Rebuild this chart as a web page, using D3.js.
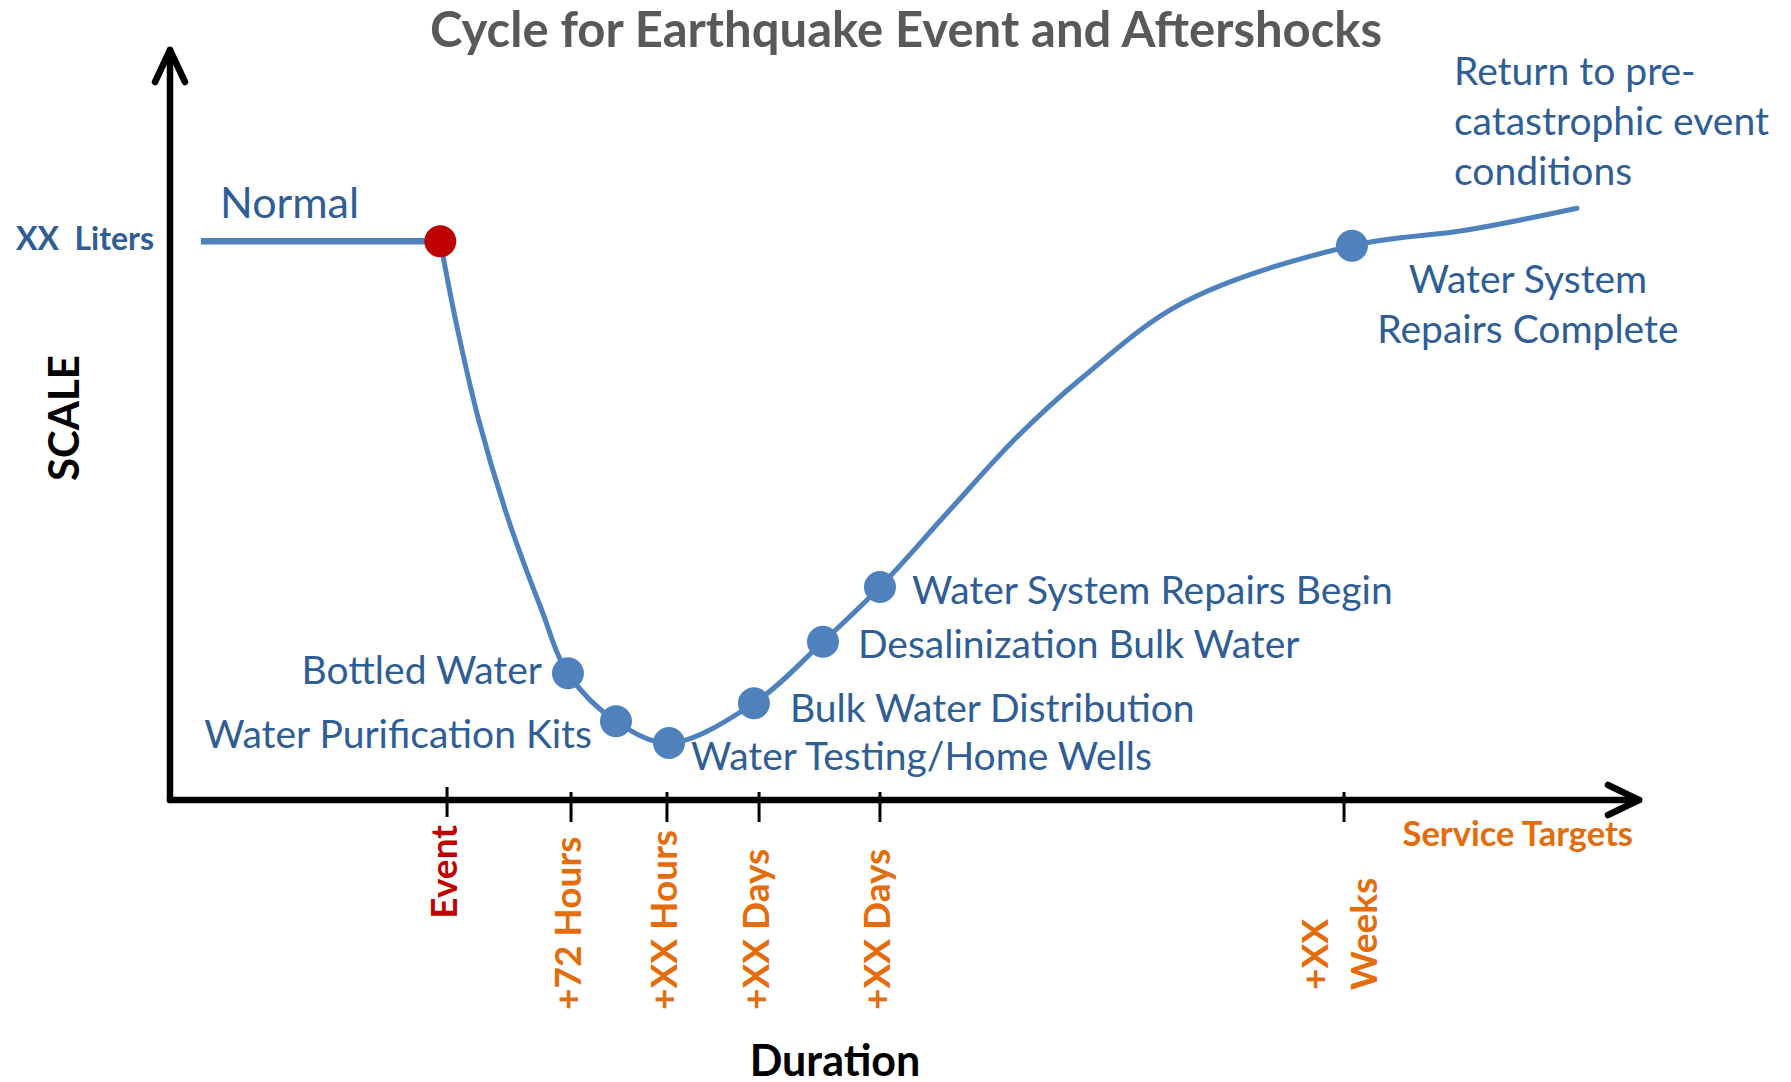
<!DOCTYPE html>
<html>
<head>
<meta charset="utf-8">
<script src="https://d3js.org/d3.v7.min.js"></script>
<style>
  body { margin: 0; background: #fff; }
  text { font-family: Lato, "Open Sans", sans-serif; }
</style>
</head>
<body>
<div id="chart"></div>
<script>
// service level curve, both axes in 0-100 units
var curveX = [18.4, 19.44, 21.01, 23.05, 25.23, 27.09, 30.36, 33.97, 39.75, 44.45, 48.33,
              53.1, 57.66, 62.15, 68.96, 80.46, 88.29, 95.78];
var curveY = [74.5, 64.0, 50.7, 37.3, 25.7, 16.9, 10.5, 7.6, 12.9, 21.1, 28.4,
              38.7, 48.4, 56.4, 66.3, 73.9, 76.0, 78.9];

var normalX = [2.1, 18.4];
var normalLevel = 74.5;

var milestones = ["Event", "Bottled Water", "Water Purification Kits", "Water Testing/Home Wells",
                  "Bulk Water Distribution", "Desalinization Bulk Water", "Water System Repairs Begin",
                  "Water System Repairs Complete"];
var milestoneX = [18.4, 27.09, 30.36, 33.97, 39.75, 44.45, 48.33, 80.46];
var milestoneY = [74.5, 16.9, 10.5, 7.6, 12.9, 21.1, 28.4, 73.9];

var tickLabels = ["Event", "+72 Hours", "+XX Hours", "+XX Days", "+XX Days", "+XX Weeks"];
var tickX = [18.86, 27.3, 33.83, 40.1, 48.33, 79.92];

var width = 1791, height = 1082;
var blue = "#4f81bd", textBlue = "#2f5d95", orange = "#e46c0a", red = "#c00000";

var svg = d3.select("#chart").append("svg")
    .attr("width", width)
    .attr("height", height);

var x = d3.scaleLinear().domain([0, 100]).range([170, 1639]);
var y = d3.scaleLinear().domain([0, 100]).range([800, 50]);

// title
svg.append("text")
    .attr("x", 906).attr("y", 47)
    .attr("text-anchor", "middle")
    .style("font-size", "49px").style("font-weight", "bold")
    .attr("fill", "#595959")
    .text("Cycle for Earthquake Event and Aftershocks");

// axes with open arrow heads
var axis = svg.append("g").attr("stroke", "#000").attr("fill", "none")
    .attr("stroke-width", 6.5).attr("stroke-linecap", "round").attr("stroke-linejoin", "round");
axis.append("line").attr("x1", x(0)).attr("y1", y(0)).attr("x2", x(0)).attr("y2", y(100));
axis.append("line").attr("x1", x(0)).attr("y1", y(0)).attr("x2", x(100)).attr("y2", y(0));
axis.append("path").attr("d", "M" + (x(0) - 15) + "," + (y(100) + 32) + "L" + x(0) + "," + y(100) + "L" + (x(0) + 15) + "," + (y(100) + 32));
axis.append("path").attr("d", "M" + (x(100) - 31) + "," + (y(0) - 15) + "L" + x(100) + "," + y(0) + "L" + (x(100) - 31) + "," + (y(0) + 15));

// ticks
svg.append("g").selectAll("line").data(tickX).join("line")
    .attr("x1", d => x(d)).attr("x2", d => x(d))
    .attr("y1", (d, i) => i === 0 ? y(0) - 13 : y(0) - 8)
    .attr("y2", (d, i) => i === 0 ? y(0) + 17 : y(0) + 22)
    .attr("stroke", "#000").attr("stroke-width", 3);

// tick labels, rotated
var tl = svg.append("g").style("font-weight", "bold").style("font-size", "37px");
tickLabels.forEach(function (lab, i) {
  var px = x(tickX[i]);
  if (i === 0) {
    tl.append("text").attr("transform", "translate(" + (px + 10) + ",825) rotate(-90)")
      .attr("text-anchor", "end").attr("fill", red).text(lab);
  } else if (lab.indexOf("Weeks") >= 0) {
    var parts = lab.split(" ");
    parts.forEach(function (p, j) {
      tl.append("text").attr("transform", "translate(" + (px - 16 + j * 49) + ",990) rotate(-90)")
        .attr("text-anchor", "start").attr("fill", orange).text(p);
    });
  } else {
    tl.append("text").attr("transform", "translate(" + (px + 10) + ",1010) rotate(-90)")
      .attr("text-anchor", "start").attr("fill", orange).text(lab);
  }
});

svg.append("text").attr("x", 1633).attr("y", 846).attr("text-anchor", "end")
    .style("font-size", "34.5px").style("font-weight", "bold").attr("fill", orange)
    .text("Service Targets");

// axis titles
svg.append("text").attr("transform", "translate(79,418) rotate(-90)").attr("text-anchor", "middle")
    .style("font-size", "42px").style("font-weight", "bold").attr("fill", "#000").text("SCALE");
svg.append("text").attr("x", 835).attr("y", 1076).attr("text-anchor", "middle")
    .style("font-size", "43px").style("font-weight", "bold").attr("fill", "#000").text("Duration");

svg.append("text").attr("x", 154).attr("y", y(normalLevel) + 9).attr("text-anchor", "end")
    .style("font-size", "32px").style("font-weight", "bold").attr("fill", textBlue)
    .attr("xml:space", "preserve").text("XX  Liters");

// normal line and curve
svg.append("line")
    .attr("x1", x(normalX[0])).attr("x2", x(normalX[1]))
    .attr("y1", y(normalLevel)).attr("y2", y(normalLevel))
    .attr("stroke", blue).attr("stroke-width", 6.5);

svg.append("text").attr("x", 220).attr("y", 218)
    .style("font-size", "43px").attr("fill", textBlue).text("Normal");

var line = d3.line()
    .x((d, i) => x(curveX[i]))
    .y((d, i) => y(curveY[i]))
    .curve(d3.curveCatmullRom.alpha(0.5));

svg.append("path").datum(curveX).attr("d", line)
    .attr("fill", "none").attr("stroke", blue).attr("stroke-width", 5).attr("stroke-linecap", "round");

// milestone dots
svg.append("g").selectAll("circle").data(milestones).join("circle")
    .attr("cx", (d, i) => x(milestoneX[i]))
    .attr("cy", (d, i) => y(milestoneY[i]))
    .attr("r", 16)
    .attr("fill", (d, i) => i === 0 ? red : blue);

// milestone labels: offset from dot, anchor
var labelPos = {
  "Bottled Water": [-26, 11, "end"],
  "Water Purification Kits": [-24, 27, "end"],
  "Water Testing/Home Wells": [22, 27, "start"],
  "Bulk Water Distribution": [36, 19, "start"],
  "Desalinization Bulk Water": [35, 16, "start"],
  "Water System Repairs Begin": [32, 17, "start"]
};
var lab = svg.append("g").style("font-size", "39px").attr("fill", textBlue);
milestones.forEach(function (m, i) {
  var px = x(milestoneX[i]), py = y(milestoneY[i]);
  if (labelPos[m]) {
    lab.append("text").attr("x", px + labelPos[m][0]).attr("y", py + labelPos[m][1])
      .attr("text-anchor", labelPos[m][2]).text(m);
  } else if (m === "Water System Repairs Complete") {
    lab.append("text").attr("x", px + 176).attr("y", py + 47).attr("text-anchor", "middle").text("Water System");
    lab.append("text").attr("x", px + 176).attr("y", py + 97).attr("text-anchor", "middle").text("Repairs Complete");
  }
});

// end note near the end of the curve
var ex = x(curveX[curveX.length - 1]), ey = y(curveY[curveY.length - 1]);
["Return to pre-", "catastrophic event", "conditions"].forEach(function (t, j) {
  lab.append("text").attr("x", ex - 123).attr("y", ey - 123 + j * 50).text(t);
});
</script>
</body>
</html>
